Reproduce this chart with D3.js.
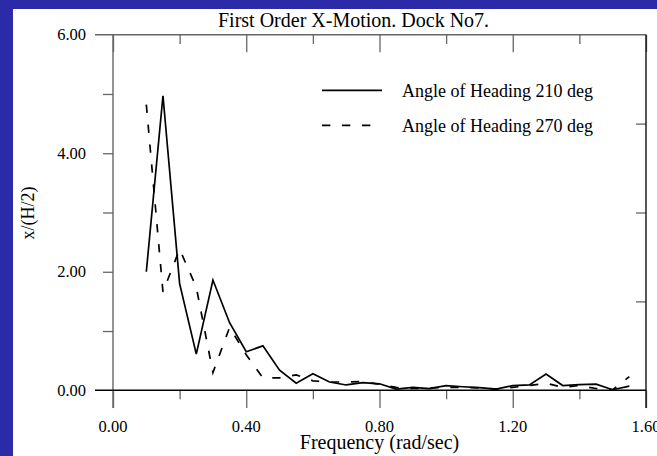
<!DOCTYPE html>
<html><head><meta charset="utf-8">
<script src="https://cdn.jsdelivr.net/npm/d3@7"></script>
<style>html,body{margin:0;padding:0;background:#2b2ba8;overflow:hidden}</style>
</head><body>
<svg id="c" width="657" height="456"></svg>
<script>
const chartTitle = "First Order X-Motion. Dock No7.";
const xTitle = "Frequency (rad/sec)";
const yTitle = "x/(H/2)";
const seriesNames = ["Angle of Heading 210 deg", "Angle of Heading 270 deg"];
const freq = [0.10,0.15,0.20,0.25,0.30,0.35,0.40,0.45,0.50,0.55,0.60,0.65,0.70,0.75,0.80,0.85,0.90,0.95,1.00,1.05,1.10,1.15,1.20,1.25,1.30,1.35,1.40,1.45,1.50,1.55];
const heading210 = [2.00,4.97,1.80,0.61,1.86,1.14,0.65,0.75,0.34,0.12,0.28,0.14,0.09,0.13,0.11,0.02,0.05,0.03,0.08,0.06,0.045,0.02,0.08,0.09,0.275,0.08,0.095,0.105,0.01,0.07];
const heading270 = [4.82,1.66,2.38,1.74,0.30,1.06,0.60,0.21,0.21,0.26,0.16,0.14,0.14,0.15,0.10,0.05,0.03,0.04,0.05,0.05,0.04,0.02,0.05,0.08,0.12,0.05,0.08,0.03,0.01,0.23];
const xTickValues = [0, 0.4, 0.8, 1.2, 1.6];
const xTickLabels = ["0.00", "0.40", "0.80", "1.20", "1.60"];
const xMinorTicks = [0.2, 0.6, 1.0, 1.4];
const yTickValues = [0, 2, 4, 6];
const yTickLabels = ["0.00", "2.00", "4.00", "6.00"];
const yMinorTicks = [1, 2, 3, 4, 5];
const yRightTicks = [1.5, 3.0, 4.5];

const svg = d3.select("#c");
const FONT = "'Liberation Serif', 'Times New Roman', serif";

// white panel
svg.append("rect").attr("x", 13).attr("y", 9).attr("width", 644).attr("height", 447).attr("fill", "#fff");

const x = d3.scaleLinear().domain([0, 1.6]).range([113, 646]);
const y = d3.scaleLinear().domain([0, 6]).range([390.3, 34.7]);

const gray = "#666";
// top axis ticks
svg.append("g").attr("transform", `translate(0,${y(6)})`)
  .call(d3.axisBottom(x).tickValues(xTickValues).tickSize(17.5).tickFormat(""))
  .call(g => g.select(".domain").remove())
  .call(g => g.selectAll("line").attr("stroke", gray).attr("stroke-width", 1.3));
svg.append("g").attr("transform", `translate(0,${y(6)})`)
  .call(d3.axisBottom(x).tickValues(xMinorTicks).tickSize(9.3).tickFormat(""))
  .call(g => g.select(".domain").remove())
  .call(g => g.selectAll("line").attr("stroke", gray).attr("stroke-width", 1.3));
// bottom axis ticks
svg.append("g").attr("transform", `translate(0,${y(0)})`)
  .call(d3.axisBottom(x).tickValues(xTickValues).tickSize(17.8).tickFormat(""))
  .call(g => g.select(".domain").remove())
  .call(g => g.selectAll("line").attr("stroke", gray).attr("stroke-width", 1.3));
svg.append("g").attr("transform", `translate(0,${y(0)})`)
  .call(d3.axisBottom(x).tickValues(xMinorTicks).tickSize(9).tickFormat(""))
  .call(g => g.select(".domain").remove())
  .call(g => g.selectAll("line").attr("stroke", gray).attr("stroke-width", 1.3));
// left ticks
svg.append("g").attr("transform", `translate(${x(0)},0)`)
  .call(d3.axisLeft(y).tickValues(yMinorTicks).tickSize(10).tickFormat(""))
  .call(g => g.select(".domain").remove())
  .call(g => g.selectAll("line").attr("stroke", gray).attr("stroke-width", 1.3));
// right ticks
svg.append("g").attr("transform", `translate(${x(1.6)},0)`)
  .call(d3.axisLeft(y).tickValues(yRightTicks).tickSize(10).tickFormat(""))
  .call(g => g.select(".domain").remove())
  .call(g => g.selectAll("line").attr("stroke", gray).attr("stroke-width", 1.3));

// frame lines
svg.append("line").attr("x1", 95).attr("x2", x(1.6)).attr("y1", y(6)).attr("y2", y(6)).attr("stroke", gray).attr("stroke-width", 1.4);
svg.append("line").attr("x1", x(0)).attr("x2", x(0)).attr("y1", y(6)).attr("y2", 408).attr("stroke", gray).attr("stroke-width", 1.4);
svg.append("line").attr("x1", x(1.6)).attr("x2", x(1.6)).attr("y1", y(6)).attr("y2", 408).attr("stroke", "#111").attr("stroke-width", 1.4);
svg.append("line").attr("x1", 95).attr("x2", x(1.6)).attr("y1", y(0)).attr("y2", y(0)).attr("stroke", "#000").attr("stroke-width", 1.5);

// tick labels
svg.append("g").selectAll("text").data(xTickValues).join("text")
  .attr("x", d => x(d)).attr("y", 432.3).attr("text-anchor", "middle")
  .attr("font-family", FONT).attr("font-size", 16.5).attr("fill", "#000")
  .text((d, i) => xTickLabels[i]);
svg.append("g").selectAll("text").data(yTickValues).join("text")
  .attr("x", 86).attr("y", d => y(d) + 5.7).attr("text-anchor", "end")
  .attr("font-family", FONT).attr("font-size", 16.5).attr("fill", "#000")
  .text((d, i) => yTickLabels[i]);

// titles
svg.append("text").attr("x", 218).attr("y", 26.7).attr("font-family", FONT).attr("font-size", 20).attr("fill", "#000").text(chartTitle);
svg.append("text").attr("x", 379.5).attr("y", 449).attr("text-anchor", "middle").attr("font-family", FONT).attr("font-size", 20).attr("fill", "#000").text(xTitle);
svg.append("text").attr("transform", "translate(34,213) rotate(-90)").attr("text-anchor", "middle").attr("font-family", FONT).attr("font-size", 18).attr("fill", "#000").text(yTitle);

// data lines
const line = d3.line().x(d => x(d[0])).y(d => y(d[1]));
const dash = "8.3,11.7";
svg.append("path").datum(freq.map((f, i) => [f, heading210[i]]))
  .attr("d", line).attr("fill", "none").attr("stroke", "#000").attr("stroke-width", 1.7).attr("stroke-linejoin", "miter");
svg.append("path").datum(freq.map((f, i) => [f, heading270[i]]))
  .attr("d", line).attr("fill", "none").attr("stroke", "#000").attr("stroke-width", 1.7).attr("stroke-dasharray", dash);

// legend
const leg = [{name: seriesNames[0], dash: null, y: 90.3, x2: 382}, {name: seriesNames[1], dash: dash, y: 125.3, x2: 371}];
const lg = svg.append("g");
leg.forEach(l => {
  lg.append("line").attr("x1", 322).attr("x2", l.x2).attr("y1", l.y).attr("y2", l.y)
    .attr("stroke", "#000").attr("stroke-width", 1.7).attr("stroke-dasharray", l.dash);
  lg.append("text").attr("x", 402).attr("y", l.y + 7).attr("font-family", FONT).attr("font-size", 18).attr("fill", "#000").text(l.name);
});
</script>
</body></html>
